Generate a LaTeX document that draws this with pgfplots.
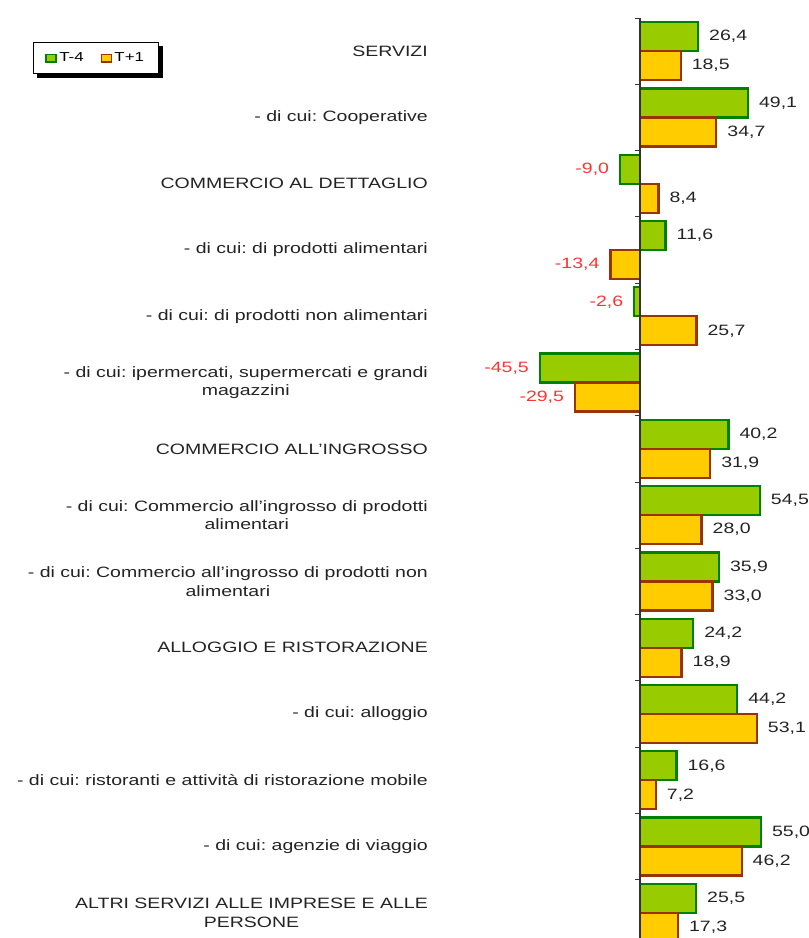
\documentclass[border=0pt]{standalone}
\usepackage{fontspec}
\setmainfont{Liberation Sans}[FakeStretch=1.3]
\usepackage{pgfplots}
\usepackage{pgfplotstable}
\pgfplotsset{compat=1.18}
\usetikzlibrary{backgrounds}
\definecolor{gfill}{RGB}{153,204,0}
\definecolor{gline}{RGB}{0,128,0}
\definecolor{yfill}{RGB}{255,204,0}
\definecolor{yline}{RGB}{153,51,0}
\definecolor{negred}{RGB}{255,51,51}
\definecolor{txt}{RGB}{35,35,35}
\frenchspacing

% idx = category position from the top
\pgfplotstableread{
idx t4 t1
0 26.4 18.5
1 49.1 34.7
2 -9.0 8.4
3 11.6 -13.4
4 -2.6 25.7
5 -45.5 -29.5
6 40.2 31.9
7 54.5 28.0
8 35.9 33.0
9 24.2 18.9
10 44.2 53.1
11 16.6 7.2
12 55.0 46.2
13 25.5 17.3
}\data

\begin{document}
\begin{tikzpicture}
\begin{axis}[
  at={(450pt,-8pt)}, anchor=south west,
  scale only axis, width=359pt, height=928pt,
  xmin=-86.36, xmax=76.82,
  ymin=-0.5, ymax=13.5, y dir=reverse,
  xbar=0pt, bar width=29pt,
  axis line style={draw=none},
  major tick length=0pt,
  xtick=\empty,
  ytick={0,...,13},
  yticklabels={
    SERVIZI,
    - di cui: Cooperative,
    COMMERCIO AL DETTAGLIO,
    - di cui: di prodotti alimentari,
    - di cui: di prodotti non alimentari,
    {- di cui: ipermercati, supermercati e grandi\\magazzini},
    COMMERCIO ALL'INGROSSO,
    - di cui: Commercio all'ingrosso di prodotti\\alimentari,
    - di cui: Commercio all'ingrosso di prodotti non\\alimentari,
    ALLOGGIO E RISTORAZIONE,
    - di cui: alloggio,
    - di cui: ristoranti e attività di ristorazione mobile,
    - di cui: agenzie di viaggio,
    ALTRI SERVIZI ALLE IMPRESE E ALLE\\PERSONE},
  yticklabel style={align=center, inner sep=0pt, xshift=-22pt,
    font=\fontsize{15}{18.5}\selectfont, text=txt},
  point meta=x,
  visualization depends on={rawx \as \rawx},
  nodes near coords={\ifdim\rawx pt<0pt\color{negred}\fi
    \pgfmathprintnumber[fixed,fixed zerofill,precision=1,use comma,
      assume math mode=true]{\pgfplotspointmeta}},
  nodes near coords align=horizontal,
  every node near coord/.append style={font=\fontsize{15}{18}\selectfont,
    text=txt, inner xsep=10pt, inner ysep=0pt},
  legend columns=2,
  legend style={at={(axis description cs:-1.1616,0.9741)}, anchor=north west,
    name=leg, draw=black, line width=1pt, fill=white,
    font=\fontsize{13}{15}\selectfont, inner xsep=12pt, inner ysep=8.5pt,
    /tikz/every even column/.append style={column sep=15pt}},
  sq/.style={legend image code/.code={
    \draw[##1, line width=1.8pt] (0pt,-3.8pt) rectangle (10pt,3.8pt);}},
]
\addplot[fill=gfill, draw=gline, line width=2.2pt, bar shift=14.5pt, sq]
  table[x=t4, y=idx] {\data};
\addlegendentry{T-4}
\addplot[fill=yfill, draw=yline, line width=2.2pt, bar shift=-14.5pt, sq]
  table[x=t1, y=idx] {\data};
\addlegendentry{T+1}
\draw[black!80, line width=1.2pt] (axis cs:0,-0.5) -- (axis cs:0,13.5);
\pgfplotsinvokeforeach{-0.5,0.5,...,13.5}{
  \draw[black!80, line width=1pt] (axis cs:0,#1) -- ([xshift=-5pt]axis cs:0,#1);}
\end{axis}
\begin{scope}[on background layer]
\fill[black] ([xshift=4pt,yshift=-4pt]leg.south west)
  rectangle ([xshift=4pt,yshift=-4pt]leg.north east);
\end{scope}
\pgfresetboundingbox
\useasboundingbox (0,0) rectangle (809pt,938pt);
\end{tikzpicture}
\end{document}
